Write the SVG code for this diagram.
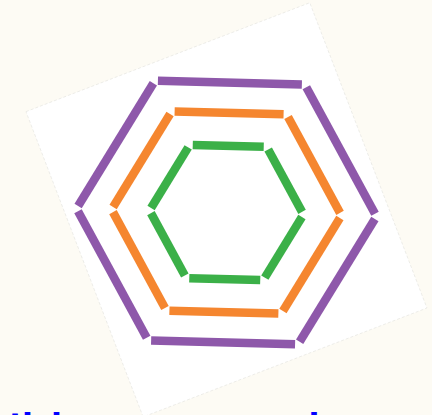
<svg xmlns="http://www.w3.org/2000/svg" width="432" height="415" viewBox="0 0 432 415">
  <defs>
    <style>
      .seg { fill: none; stroke-linecap: butt; stroke-width: 8.5; }
      .purple { stroke: #8e58aa; }
      .orange { stroke: #f5862f; }
      .green { stroke: #3bb048; }
      .label { font-family: "DejaVu Sans", sans-serif; font-weight: bold; font-size: 32px; fill: #0000ff; }
    </style>
    <line id="edgeP" x1="-72" y1="-129.9" x2="72" y2="-129.9"/>
    <line id="edgeO" x1="-54.5" y1="-99.6" x2="54.5" y2="-99.6"/>
    <line id="edgeG" x1="-35.5" y1="-66.7" x2="35.5" y2="-66.7"/>
  </defs>
  <rect x="0" y="0" width="432" height="415" fill="#fdfbf4"/>
  <g id="paper" transform="translate(226,210) rotate(-21)">
    <rect x="-151.5" y="-163.5" width="304" height="327" fill="#ffffff" stroke="#e4e4e0" stroke-width="0.6" stroke-dasharray="3 2"/>
  </g>
  <g transform="translate(226.5,212.5) rotate(1.5)">
    <g id="hex-purple" class="seg purple">
      <use href="#edgeP"/>
      <use href="#edgeP" transform="rotate(60)"/>
      <use href="#edgeP" transform="rotate(120)"/>
      <use href="#edgeP" transform="rotate(180)"/>
      <use href="#edgeP" transform="rotate(240)"/>
      <use href="#edgeP" transform="rotate(300)"/>
    </g>
    <g id="hex-orange" class="seg orange">
      <use href="#edgeO"/>
      <use href="#edgeO" transform="rotate(60)"/>
      <use href="#edgeO" transform="rotate(120)"/>
      <use href="#edgeO" transform="rotate(180)"/>
      <use href="#edgeO" transform="rotate(240)"/>
      <use href="#edgeO" transform="rotate(300)"/>
    </g>
    <g id="hex-green" class="seg green">
      <use href="#edgeG"/>
      <use href="#edgeG" transform="rotate(60)"/>
      <use href="#edgeG" transform="rotate(120)"/>
      <use href="#edgeG" transform="rotate(180)"/>
      <use href="#edgeG" transform="rotate(240)"/>
      <use href="#edgeG" transform="rotate(300)"/>
    </g>
  </g>
  <g id="caption">
    <text class="label" x="9 22 51 308.5" y="436">tlll</text>
  </g>
</svg>
